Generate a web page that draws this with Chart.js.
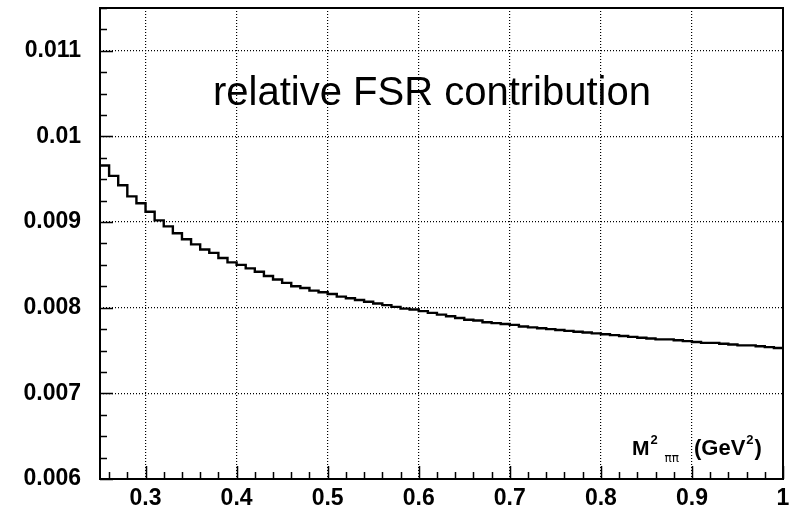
<!DOCTYPE html>
<html>
<head>
<meta charset="utf-8">
<script src="https://cdn.jsdelivr.net/npm/chart.js@4.4.0/dist/chart.umd.min.js"></script>
<style>
  html, body { margin: 0; padding: 0; background: #fff; }
  #wrap { width: 791px; height: 507px; }
</style>
</head>
<body>
<div id="wrap"><canvas id="fsr-chart" width="791" height="507"></canvas></div>
<script>
// histogram: 75 bins of width 0.01 from 0.25 to 1.0 (M^2 pipi, GeV^2)
var binStart = 0.25;
var binWidth = 0.01;
var fsrValues = [
    0.00966, 0.00954, 0.00943, 0.00930, 0.00922, 0.00912, 0.00902, 0.00895, 0.00887, 0.00880,
    0.00874, 0.00868, 0.00864, 0.00858, 0.00853, 0.00850, 0.00846, 0.00842, 0.00837, 0.00833,
    0.00829, 0.00825, 0.00823, 0.00820, 0.00818, 0.00816, 0.00813, 0.00811, 0.00809, 0.00807,
    0.00805, 0.00803, 0.00801, 0.00799, 0.00798, 0.00796, 0.00794, 0.00792, 0.00790, 0.00788,
    0.00786, 0.00785, 0.00783, 0.00782, 0.00781, 0.00780, 0.00778, 0.00777, 0.00776, 0.00775,
    0.00774, 0.00773, 0.00772, 0.00771, 0.00770, 0.00769, 0.00768, 0.00767, 0.00766, 0.00765,
    0.00764, 0.00763, 0.00763, 0.00762, 0.00761, 0.00760, 0.00759, 0.00759, 0.00758, 0.00757,
    0.00756, 0.00756, 0.00755, 0.00754, 0.00753
];
var xTicks = [0.3, 0.4, 0.5, 0.6, 0.7, 0.8, 0.9, 1];
var yTicks = [0.006, 0.007, 0.008, 0.009, 0.01, 0.011];
var xRange = [0.25, 1.0];
var yRange = [0.006, 0.0115];

// points at bin low edges, plus closing point at the last high edge
var points = fsrValues.map(function(v, i) {
    return { x: +(binStart + i * binWidth).toFixed(3), y: v };
});
points.push({ x: +(binStart + fsrValues.length * binWidth).toFixed(3), y: fsrValues[fsrValues.length - 1] });

var labelFont = { family: '"Liberation Sans", Arial, sans-serif', size: 23, weight: 'bold' };

// ROOT-like frame, inward ticks and texts
var rootFrame = {
    id: 'rootFrame',
    afterDatasetsDraw: function(chart) {
        var ctx = chart.ctx, a = chart.chartArea;
        var xs = chart.scales.x, ys = chart.scales.y;
        ctx.save();
        ctx.strokeStyle = '#000';
        ctx.lineWidth = 1.5;
        ctx.beginPath();
        // y ticks every 0.00025, major every 0.001
        for (var k = 0; k <= 22; k++) {
            var py = Math.round(ys.getPixelForValue(0.006 + k * 0.00025)) + 0.5;
            var len = (k % 4 === 0) ? 13 : 7;
            ctx.moveTo(a.left, py);
            ctx.lineTo(a.left + len, py);
        }
        // x ticks every 0.02 from 0.26, major every 0.1
        for (var j = 0; j <= 37; j++) {
            var v = 0.26 + j * 0.02;
            var px = Math.round(xs.getPixelForValue(v)) + 0.5;
            var major = (j - 2) % 5 === 0;
            ctx.moveTo(px, a.bottom);
            ctx.lineTo(px, a.bottom - (major ? 13 : 7));
        }
        ctx.stroke();
        ctx.lineWidth = 2;
        ctx.strokeRect(a.left, a.top, a.right - a.left, a.bottom - a.top);

        ctx.fillStyle = '#000';
        ctx.textBaseline = 'alphabetic';
        ctx.textAlign = 'left';
        ctx.font = '40px "Liberation Sans", Arial, sans-serif';
        ctx.fillText('relative FSR contribution', 213, 105);

        // axis title  M^2_pipi (GeV^2)
        var x0 = a.right - 151, base = a.bottom - 24;
        ctx.font = 'bold 21px "Liberation Sans", Arial, sans-serif';
        ctx.fillText('M', x0, base);
        x0 += ctx.measureText('M').width + 1;
        ctx.font = 'bold 13px "Liberation Sans", Arial, sans-serif';
        ctx.fillText('2', x0, base - 11);
        x0 += 14;
        ctx.font = '12px "DejaVu Sans", sans-serif';
        ctx.fillText('\u03c0\u03c0', x0, base + 7);
        x0 = a.right - 89;
        ctx.font = 'bold 22px "Liberation Sans", Arial, sans-serif';
        ctx.fillText('(GeV', x0, base);
        x0 += ctx.measureText('(GeV').width + 1;
        ctx.font = 'bold 13px "Liberation Sans", Arial, sans-serif';
        ctx.fillText('2', x0, base - 11);
        x0 += ctx.measureText('2').width + 1;
        ctx.font = 'bold 22px "Liberation Sans", Arial, sans-serif';
        ctx.fillText(')', x0, base);
        ctx.restore();
    }
};

var config = {
    type: 'line',
    data: {
        datasets: [{
            label: 'relative FSR contribution',
            data: points,
            stepped: 'before',
            borderColor: '#000',
            borderWidth: 2.4,
            pointRadius: 0,
            fill: false
        }]
    },
    options: {
        responsive: false,
        animation: false,
        layout: { padding: { left: 0, right: 8, top: 8, bottom: 0 } },
        plugins: {
            legend: { display: false },
            tooltip: { enabled: false }
        },
        scales: {
            x: {
                type: 'linear',
                min: xRange[0],
                max: xRange[1],
                afterBuildTicks: function(scale) {
                    scale.ticks = xTicks.map(function(v) { return { value: v }; });
                },
                afterFit: function(scale) {
                    scale.height = 28;
                    scale.paddingLeft = 0;
                    scale.paddingRight = 0;
                },
                grid: { color: '#000', lineWidth: 1.2, drawTicks: false },
                border: { display: false, dash: [1, 2] },
                ticks: {
                    color: '#000',
                    font: labelFont,
                    padding: 6,
                    maxRotation: 0,
                    callback: function(v) { return String(v); }
                }
            },
            y: {
                type: 'linear',
                min: yRange[0],
                max: yRange[1],
                afterBuildTicks: function(scale) {
                    scale.ticks = yTicks.map(function(v) { return { value: v }; });
                },
                afterFit: function(scale) {
                    scale.width = 100;
                    scale.paddingTop = 0;
                    scale.paddingBottom = 0;
                },
                grid: { color: '#000', lineWidth: 1.2, drawTicks: false },
                border: { display: false, dash: [1, 2] },
                ticks: {
                    color: '#000',
                    font: labelFont,
                    padding: 19,
                    callback: function(v) { return String(v); }
                }
            }
        }
    },
    plugins: [rootFrame]
};

window.onload = function() {
    var ctx = document.getElementById('fsr-chart').getContext('2d');
    window.fsrChart = new Chart(ctx, config);
};
</script>
</body>
</html>
